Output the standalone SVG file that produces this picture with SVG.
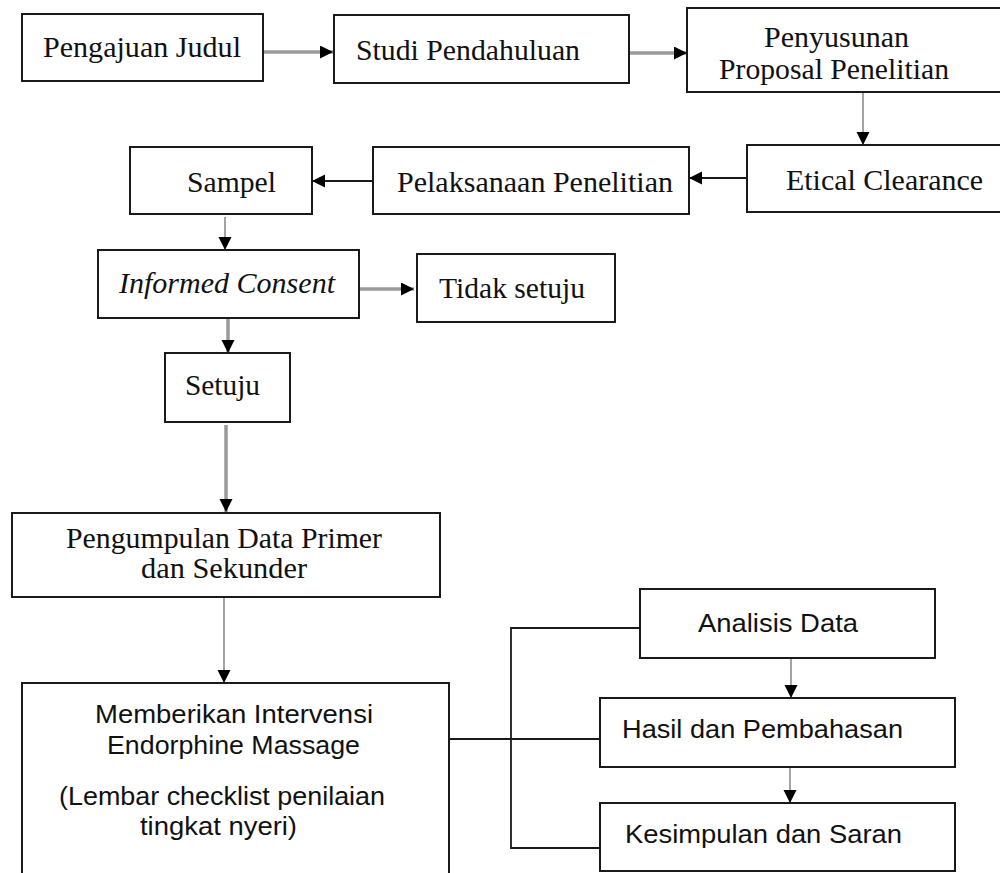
<svg xmlns="http://www.w3.org/2000/svg" width="1000" height="873" viewBox="0 0 1000 873">
<style>
.box{fill:#fff;stroke:#1a1a1a;stroke-width:2}
.serif{font-family:"Liberation Serif","Times New Roman",serif;font-size:30px;fill:#111}
.ital{font-style:italic}
.sans{font-family:"Liberation Sans",Arial,sans-serif;font-size:26px;fill:#111}
.g{stroke:#9a9a9a;stroke-width:1.8;fill:none}
.gt{stroke:#9a9a9a;stroke-width:3.5;fill:none}
.k{stroke:#1a1a1a;stroke-width:1.8;fill:none}
</style>
<defs>
<marker id="ah" markerUnits="userSpaceOnUse" markerWidth="14" markerHeight="14" refX="13" refY="6.5" orient="auto">
<path d="M0,0 L13,6.5 L0,13 z" fill="#000"/>
</marker>
</defs>
<rect width="1000" height="873" fill="#fff"/>
<g id="connectors">
<line class="gt" x1="263" y1="52" x2="333" y2="52" marker-end="url(#ah)"/>
<line class="gt" x1="629" y1="53" x2="687" y2="53" marker-end="url(#ah)"/>
<line class="g" x1="863" y1="87" x2="863" y2="145" marker-end="url(#ah)"/>
<line class="k" x1="747" y1="178" x2="689" y2="178" marker-end="url(#ah)"/>
<line class="k" x1="373" y1="181" x2="312" y2="181" marker-end="url(#ah)"/>
<line class="g" x1="225" y1="217" x2="225" y2="250" marker-end="url(#ah)"/>
<line class="gt" x1="359" y1="289" x2="414" y2="289" marker-end="url(#ah)"/>
<line class="gt" x1="228" y1="318" x2="228" y2="353" marker-end="url(#ah)"/>
<line class="gt" x1="226" y1="425" x2="226" y2="512" marker-end="url(#ah)"/>
<line class="g" x1="224" y1="597" x2="224" y2="683" marker-end="url(#ah)"/>
<line class="g" x1="791" y1="658" x2="791" y2="698" marker-end="url(#ah)"/>
<line class="g" x1="790" y1="767" x2="790" y2="803" marker-end="url(#ah)"/>
<polyline class="k" points="640,628 511,628 511,848 600,848"/>
<line class="k" x1="449" y1="739" x2="600" y2="739"/>
</g>
<g id="n-pengajuan">
<rect class="box" x="22" y="14" width="241" height="67"/>
<text class="serif" x="43" y="57" textLength="198" lengthAdjust="spacingAndGlyphs">Pengajuan Judul</text>
</g>
<g id="n-studi">
<rect class="box" x="334" y="15" width="295" height="68"/>
<text class="serif" x="356" y="60" textLength="224" lengthAdjust="spacingAndGlyphs">Studi Pendahuluan</text>
</g>
<g id="n-penyusunan">
<rect class="box" x="687" y="8" width="320" height="84"/>
<text class="serif" x="764" y="47" textLength="145" lengthAdjust="spacingAndGlyphs">Penyusunan</text>
<text class="serif" x="719" y="79" textLength="230" lengthAdjust="spacingAndGlyphs">Proposal Penelitian</text>
</g>
<g id="n-etical">
<rect class="box" x="747" y="145" width="260" height="67"/>
<text class="serif" x="786" y="190" textLength="197" lengthAdjust="spacingAndGlyphs">Etical Clearance</text>
</g>
<g id="n-pelaksanaan">
<rect class="box" x="373" y="147" width="316" height="67"/>
<text class="serif" x="397" y="192" textLength="276" lengthAdjust="spacingAndGlyphs">Pelaksanaan Penelitian</text>
</g>
<g id="n-sampel">
<rect class="box" x="130" y="147" width="182" height="67"/>
<text class="serif" x="187" y="192" textLength="89" lengthAdjust="spacingAndGlyphs">Sampel</text>
</g>
<g id="n-informed">
<rect class="box" x="98" y="250" width="261" height="68"/>
<text class="serif ital" x="119" y="293" textLength="216" lengthAdjust="spacingAndGlyphs">Informed Consent</text>
</g>
<g id="n-tidak">
<rect class="box" x="417" y="254" width="198" height="68"/>
<text class="serif" x="439" y="298" textLength="146" lengthAdjust="spacingAndGlyphs">Tidak setuju</text>
</g>
<g id="n-setuju">
<rect class="box" x="165" y="353" width="125" height="69"/>
<text class="serif" x="185" y="395" textLength="75" lengthAdjust="spacingAndGlyphs">Setuju</text>
</g>
<g id="n-pengumpulan">
<rect class="box" x="12" y="513" width="428" height="84"/>
<text class="serif" x="66" y="548" textLength="316" lengthAdjust="spacingAndGlyphs">Pengumpulan Data Primer</text>
<text class="serif" x="141" y="578" textLength="166" lengthAdjust="spacingAndGlyphs">dan Sekunder</text>
</g>
<g id="n-memberikan">
<rect class="box" x="22" y="683" width="427" height="200"/>
<text class="sans" x="95" y="723" textLength="278" lengthAdjust="spacingAndGlyphs">Memberikan Intervensi</text>
<text class="sans" x="107" y="754" textLength="253" lengthAdjust="spacingAndGlyphs">Endorphine Massage</text>
<text class="sans" x="59" y="805" textLength="326" lengthAdjust="spacingAndGlyphs">(Lembar checklist penilaian</text>
<text class="sans" x="140" y="835" textLength="157" lengthAdjust="spacingAndGlyphs">tingkat nyeri)</text>
</g>
<g id="n-analisis">
<rect class="box" x="640" y="589" width="295" height="69"/>
<text class="sans" x="698" y="632" textLength="160" lengthAdjust="spacingAndGlyphs">Analisis Data</text>
</g>
<g id="n-hasil">
<rect class="box" x="600" y="698" width="355" height="69"/>
<text class="sans" x="622" y="738" textLength="281" lengthAdjust="spacingAndGlyphs">Hasil dan Pembahasan</text>
</g>
<g id="n-kesimpulan">
<rect class="box" x="600" y="803" width="355" height="68"/>
<text class="sans" x="625" y="843" textLength="277" lengthAdjust="spacingAndGlyphs">Kesimpulan dan Saran</text>
</g>
</svg>
